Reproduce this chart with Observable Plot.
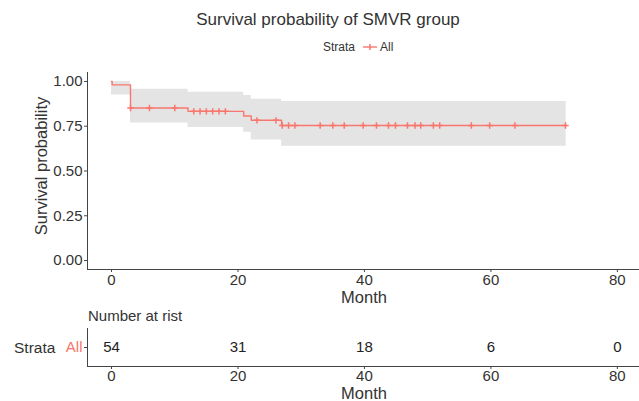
<!DOCTYPE html>
<html>
<head>
<meta charset="utf-8">
<script src="https://cdn.jsdelivr.net/npm/d3@7"></script>
<script src="https://cdn.jsdelivr.net/npm/@observablehq/plot@0.6"></script>
<style>
  html, body { margin: 0; padding: 0; background: #fff; }
  #wrap { position: relative; width: 639px; height: 401px; overflow: hidden; font-family: "Liberation Sans", Arial, sans-serif; color: #333; }
  .lbl { position: absolute; white-space: nowrap; line-height: 1; }
  .c { transform: translate(-50%, -50%); }
  .l { transform: translate(0, -50%); }
  .abs { position: absolute; left: 0; }
</style>
</head>
<body>
<div id="wrap"></div>
<script>
// ---- data ----
const stepTimes   = [0, 0.1, 3.0, 12.1, 20.9, 22.1, 26.9, 71.9];
const survival    = [1.0, 0.981, 0.852, 0.833, 0.807, 0.783, 0.754, 0.754];
const upperCI     = [1.0, 1.0, 0.957, 0.940, 0.921, 0.900, 0.888, 0.888];
const lowerCI     = [0.925, 0.925, 0.768, 0.743, 0.716, 0.673, 0.638, 0.638];
const censorTimes = [3, 6, 10, 13, 14, 15, 16, 17, 18, 23, 26, 27, 28, 29, 33, 35, 36.8, 39.8, 41.9, 43.8, 44.9, 46.8, 48, 48.9, 50.9, 51.9, 56.9, 59.8, 63.8, 71.8];
const riskTimes   = [0, 20, 40, 60, 80];
const riskCounts  = [54, 31, 18, 6, 0];
const xTicks      = [0, 20, 40, 60, 80];
const yTicks      = [0, 0.25, 0.5, 0.75, 1];
const strata      = ["All"];

const red = "#F8766D";
const font = "'Liberation Sans', Arial, sans-serif";
const xDomain = [-3.8, 83.5];

const curve = stepTimes.map((t, i) => ({t, s: survival[i], hi: upperCI[i], lo: lowerCI[i]}));
const bis = d3.bisector(d => d.t).right;
const censors = censorTimes.map(t => ({t, s: curve[Math.max(0, bis(curve, t) - 1)].s}));

const wrap = document.getElementById("wrap");

const main = Plot.plot({
  width: 639, height: 230,
  marginLeft: 87, marginRight: 0, marginTop: 12, marginBottom: 21,
  style: {fontFamily: font, fontSize: "15px", color: "#333", background: "transparent", overflow: "visible"},
  x: {domain: xDomain, label: null},
  y: {domain: [-0.05, 1.05], label: null},
  marks: [
    Plot.areaY(curve, {x: "t", y1: "lo", y2: "hi", curve: "step-after", fill: "#e4e4e4"}),
    Plot.line(curve, {x: "t", y: "s", curve: "step-after", stroke: red, strokeWidth: 1.4}),
    Plot.dot(censors, {x: "t", y: "s", symbol: "plus", stroke: red, r: 2.2, strokeWidth: 1.5}),
    Plot.axisX({ticks: xTicks, tickSize: 3, tickPadding: 2, label: null, stroke: "#444", fill: "#333"}),
    Plot.axisY({ticks: yTicks, tickFormat: d3.format(".2f"), tickSize: 3, tickPadding: 2, label: null, stroke: "#444", fill: "#333"}),
    Plot.ruleX([xDomain[0]], {stroke: "#444"}),
    Plot.ruleY([-0.05], {stroke: "#444"})
  ]
});
main.classList.add("abs");
main.style.top = "60px";
wrap.appendChild(main);

const risk = Plot.plot({
  width: 639, height: 79,
  marginLeft: 87, marginRight: 0, marginTop: 6, marginBottom: 35,
  style: {fontFamily: font, fontSize: "15px", color: "#333", background: "transparent", overflow: "visible"},
  x: {domain: xDomain, label: null},
  y: {domain: strata, label: null},
  marks: [
    Plot.text(riskTimes.map((t, i) => ({t, n: riskCounts[i], g: strata[0]})), {x: "t", y: "g", text: d => String(d.n), fill: "#222", fontSize: 15}),
    Plot.axisX({ticks: xTicks, tickSize: 3, tickPadding: 1, label: null, stroke: "#444", fill: "#333"}),
    Plot.axisY({tickSize: 3, tickPadding: 2, label: null, stroke: "#444", fill: red}),
    Plot.frame({anchor: "left", stroke: "#444"}),
    Plot.frame({anchor: "bottom", stroke: "#444"})
  ]
});
risk.classList.add("abs");
risk.style.top = "322px";
wrap.appendChild(risk);

function label(text, x, y, size, cls, extra) {
  const d = document.createElement("div");
  d.className = "lbl " + cls;
  d.textContent = text;
  d.style.left = x + "px";
  d.style.top = y + "px";
  d.style.fontSize = size + "px";
  if (extra) Object.assign(d.style, extra);
  wrap.appendChild(d);
  return d;
}

label("Survival probability of SMVR group", 328, 19, 17, "c");
label("Strata", 323, 47, 12, "l");
label("All", 380, 47, 12, "l");
const ls = document.createElementNS("http://www.w3.org/2000/svg", "svg");
ls.setAttribute("width", 14); ls.setAttribute("height", 10);
ls.style.position = "absolute"; ls.style.left = "363px"; ls.style.top = "42px";
ls.innerHTML = `<line x1="0" y1="5" x2="14" y2="5" stroke="${red}" stroke-width="1.4"/><line x1="7" y1="2" x2="7" y2="8" stroke="${red}" stroke-width="1.5"/>`;
wrap.appendChild(ls);

label("Survival probability", 41, 166, 16.5, "", {transform: "translate(-50%,-50%) rotate(-90deg)"});
label("Month", 364, 296.5, 16.5, "c", {lineHeight: "0.75"});
label("Number at rist", 88, 315, 15, "l");
label("Strata", 14, 348, 15.5, "l");
label("Month", 364, 393, 16.5, "c", {lineHeight: "0.75"});
</script>
</body>
</html>
